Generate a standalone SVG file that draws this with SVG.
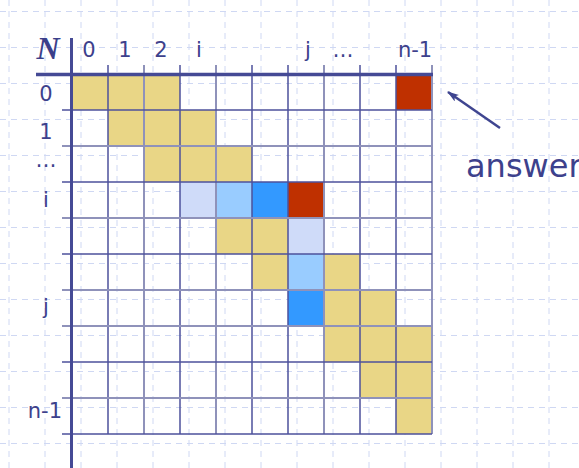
<svg xmlns="http://www.w3.org/2000/svg" width="579" height="468" viewBox="0 0 579 468">
<defs>
<style>
.bg{stroke:#cfd8f3;stroke-width:1;stroke-dasharray:6 5;fill:none}
.gold{fill:#e9d686}
.lav{fill:#cfdbf9}
.lblue{fill:#99ccff}
.blue{fill:#3399ff}
.red{fill:#bf3000}
.dk{stroke:#4d519c;stroke-width:1.5;fill:none}
.gr{stroke:#8f92ba;stroke-width:2;fill:none}
.axis{stroke:#454a95;fill:none}
.lbl{font-family:"DejaVu Sans",Verdana,sans-serif;font-size:21px;fill:#3d418c;text-anchor:middle}
.ans{font-family:"DejaVu Sans",Verdana,sans-serif;font-size:32px;fill:#3d418c}
</style>
<marker id="ah" viewBox="0 0 12 8" refX="11" refY="4" markerWidth="12" markerHeight="8" markerUnits="userSpaceOnUse" orient="auto">
<path d="M0,0 L12,4 L0,8 L3,4 Z" fill="#3f4590"/>
</marker>
</defs>
<rect width="579" height="468" fill="#ffffff"/>
<g id="background-grid">
<path class="bg" d="M9,0V468M45,0V468M81,0V468M117,0V468M153,0V468M189,0V468M225,0V468M261,0V468M297,0V468M333,0V468M369,0V468M405,0V468M441,0V468M477,0V468M513,0V468M549,0V468"/>
<path class="bg" d="M0,11.5H579M0,47.5H579M0,83.5H579M0,119.5H579M0,155.5H579M0,191.5H579M0,227.5H579M0,263.5H579M0,299.5H579M0,335.5H579M0,371.5H579M0,407.5H579M0,443.5H579"/>
</g>
<g id="cells">
<rect class="gold" x="72" y="74" width="108" height="36"/>
<rect class="gold" x="108" y="110" width="108" height="36"/>
<rect class="gold" x="144" y="146" width="108" height="36"/>
<rect class="lav" x="180" y="182" width="36" height="36"/>
<rect class="lblue" x="216" y="182" width="36" height="36"/>
<rect class="blue" x="252" y="182" width="36" height="36"/>
<rect class="red" x="288" y="182" width="36" height="36"/>
<rect class="gold" x="216" y="218" width="72" height="36"/>
<rect class="lav" x="288" y="218" width="36" height="36"/>
<rect class="gold" x="252" y="254" width="36" height="36"/>
<rect class="lblue" x="288" y="254" width="36" height="36"/>
<rect class="gold" x="324" y="254" width="36" height="36"/>
<rect class="blue" x="288" y="290" width="36" height="36"/>
<rect class="gold" x="324" y="290" width="72" height="36"/>
<rect class="gold" x="324" y="326" width="108" height="36"/>
<rect class="gold" x="360" y="362" width="72" height="36"/>
<rect class="gold" x="396" y="398" width="36" height="36"/>
<rect class="red" x="396" y="74" width="36" height="36"/>
</g>
<g id="grid-lines">
<path class="dk" d="M108,65V434M180,65V434M252,65V434M288,65V434M360,65V434M396,65V434"/>
<path class="gr" d="M144,65V434M216,65V434M324,65V434M432,65V434"/>
<path class="dk" d="M62,110H432M62,182H432M62,254H432M62,362H432M62,434H432"/>
<path class="gr" d="M62,146H432M62,218H432M62,290H432M62,326H432M62,398H432"/>
</g>
<g id="axes">
<path class="axis" stroke-width="3" d="M71.5,38V468"/>
<path class="axis" stroke-width="3.5" d="M36,74.5H433"/>
</g>
<g id="labels">
<text x="48" y="59" font-family="'Liberation Serif','Times New Roman',serif" font-size="32" font-weight="bold" font-style="italic" fill="#3b3f8a" text-anchor="middle">N</text>
<text class="lbl" x="89" y="57">0</text>
<text class="lbl" x="125" y="57">1</text>
<text class="lbl" x="161" y="57">2</text>
<text class="lbl" x="199" y="57">i</text>
<text class="lbl" x="308" y="57">j</text>
<text class="lbl" x="343" y="57">…</text>
<text class="lbl" x="415" y="57">n-1</text>
<text class="lbl" x="46" y="101">0</text>
<text class="lbl" x="46" y="139">1</text>
<text class="lbl" x="46" y="167">…</text>
<text class="lbl" x="46" y="207">i</text>
<text class="lbl" x="46" y="314">j</text>
<text class="lbl" x="62" y="418" style="text-anchor:end">n-1</text>
</g>
<g id="answer">
<line x1="500" y1="128" x2="448" y2="92" stroke="#3f4590" stroke-width="2.5" marker-end="url(#ah)"/>
<text class="ans" x="466" y="177">answer</text>
</g>
</svg>
